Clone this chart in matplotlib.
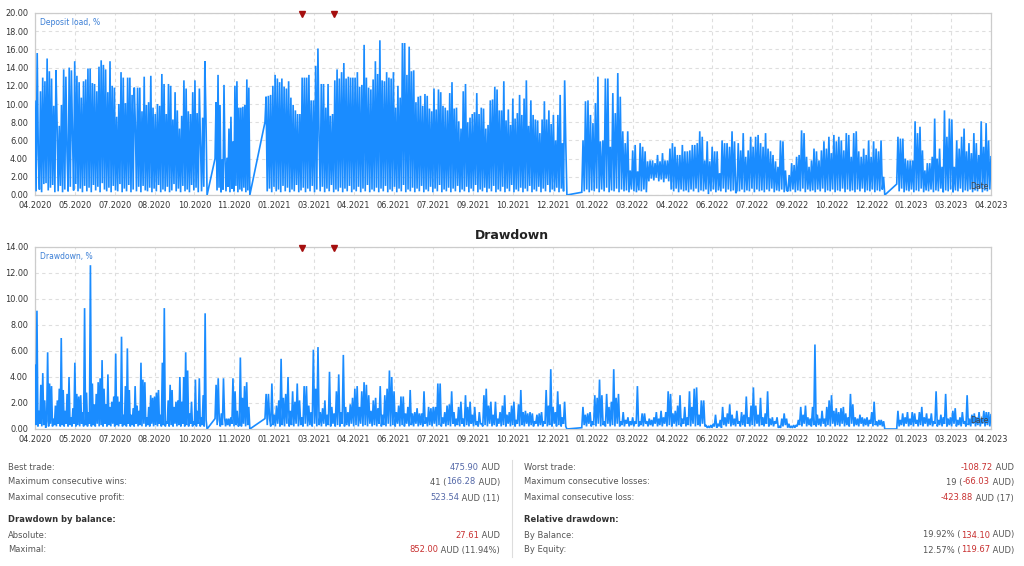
import numpy as np
import matplotlib
matplotlib.use('Agg')
import matplotlib.pyplot as plt

# Tick labels along the time axis (one every 1.5 months, as in the report)
x_labels = ['04.2020', '05.2020', '07.2020', '08.2020', '10.2020', '11.2020',
            '01.2021', '03.2021', '04.2021', '06.2021', '07.2021', '09.2021',
            '10.2021', '12.2021', '01.2022', '03.2022', '04.2022', '06.2022',
            '07.2022', '09.2022', '10.2022', '12.2022', '01.2023', '03.2023',
            '04.2023']

# Trading periods, in months since 04.2020 (start, end)
periods = [(0.0, 6.48), (6.78, 8.09), (8.66, 20.03), (20.59, 32.0), (32.45, 36.0)]

# Red event markers (months since 04.2020)
events = [10.05, 11.26]

# Deposit load, % (values in drawing order, per period)
load_a = [10.3, 0.4, 15.6, 4.5, 0.6, 11.4, 0.3, 12.9, 1.2, 12.5, 1.3, 15.0, 0.5, 13.6, 0.8, 12.8,
          1.1, 9.8, 0.3, 13.7, 7.8, 0.4, 7.6, 1.0, 9.9, 0.3, 13.8, 0.6, 13.0, 4.8, 0.4, 14.0,
          0.9, 13.7, 6.6, 0.5, 14.7, 1.2, 13.1, 0.4, 12.4, 0.7, 10.7, 0.3, 12.5, 1.0, 12.7, 0.4,
          13.9, 0.8, 13.9, 0.3, 12.3, 1.1, 12.2, 0.5, 11.4, 0.9, 14.1, 0.3, 14.8, 1.3, 14.3, 0.6,
          13.8, 0.4, 11.3, 0.8, 14.7, 0.3, 12.0, 1.0, 11.8, 0.5, 8.6, 0.4, 10.0, 1.2, 13.5, 0.3,
          12.9, 0.7, 10.1, 0.4, 12.9, 1.1, 12.9, 0.3, 11.0, 0.6, 11.8, 7.6, 0.4, 11.8, 0.9, 11.8,
          0.3, 9.2, 1.0, 13.0, 0.5, 9.9, 0.4, 10.2, 0.8, 13.1, 0.3, 9.6, 0.7, 8.9, 0.4, 10.0,
          1.1, 9.8, 0.3, 13.3, 0.6, 12.2, 0.4, 8.9, 0.9, 12.2, 0.3, 12.0, 0.5, 8.3, 1.2, 11.3,
          0.4, 9.3, 0.7, 7.3, 0.3, 8.7, 1.0, 12.6, 0.4, 11.7, 0.6, 9.2, 0.3, 8.9, 1.1, 11.3,
          0.5, 12.6, 0.8, 9.0, 0.3, 11.7, 5.6, 0.4, 8.5, 0.9, 14.7, 8.3, 0.0]
load_b = [4.0, 10.2, 0.5, 13.2, 0.8, 9.9, 0.3, 3.9, 0.6, 12.1, 4.0, 0.4, 4.1, 0.9, 7.3, 0.3,
          8.6, 0.7, 5.9, 0.4, 12.0, 1.0, 12.5, 0.3, 9.6, 0.6, 9.6, 0.4, 9.7, 0.8, 9.9, 0.3,
          12.7, 0.5, 11.8, 0.0]
load_c = [8.0, 10.8, 0.4, 10.9, 0.7, 11.0, 0.3, 12.0, 0.9, 13.2, 0.4, 12.8, 0.6, 12.4, 0.3, 12.8,
          1.0, 11.9, 0.4, 11.7, 0.8, 12.5, 0.3, 10.7, 0.6, 9.9, 0.4, 9.3, 1.1, 8.9, 0.3, 8.9,
          0.5, 12.9, 0.8, 12.9, 0.3, 12.9, 0.7, 13.2, 0.4, 10.4, 1.0, 10.4, 0.3, 14.2, 0.6, 16.1,
          6.5, 0.4, 12.2, 0.9, 12.2, 0.3, 9.6, 0.7, 12.2, 0.4, 8.7, 1.1, 8.9, 0.3, 12.6, 0.6,
          13.8, 0.4, 12.8, 0.8, 13.5, 0.3, 14.5, 0.7, 12.8, 0.4, 13.0, 1.0, 12.9, 0.3, 12.9, 0.6,
          12.9, 0.4, 13.5, 0.9, 11.9, 0.3, 12.1, 0.7, 16.5, 0.4, 12.9, 1.1, 11.8, 0.3, 11.6, 0.6,
          12.7, 0.4, 14.7, 0.8, 13.3, 0.3, 17.0, 0.7, 12.6, 0.4, 12.5, 1.0, 13.5, 0.3, 12.9, 0.6,
          12.8, 0.4, 13.5, 0.9, 9.6, 0.3, 12.0, 0.7, 10.7, 0.4, 16.7, 1.1, 16.7, 0.3, 13.2, 0.6,
          16.3, 0.4, 13.6, 0.8, 13.7, 0.3, 10.2, 0.7, 10.8, 0.4, 10.9, 1.0, 9.8, 0.3, 11.1, 0.6,
          10.9, 0.4, 9.5, 0.9, 9.2, 0.3, 11.7, 0.7, 9.4, 0.4, 11.6, 1.1, 11.3, 0.3, 9.8, 0.6,
          9.6, 0.4, 9.3, 0.8, 11.2, 0.3, 12.4, 0.7, 9.5, 0.4, 9.6, 1.0, 8.1, 0.3, 7.3, 0.6,
          11.4, 0.4, 12.2, 0.9, 8.0, 0.3, 8.5, 0.7, 8.9, 0.4, 9.1, 1.1, 11.2, 0.3, 8.9, 0.6,
          9.6, 0.4, 9.5, 0.8, 7.3, 0.3, 7.7, 0.7, 10.4, 0.4, 10.5, 1.0, 11.9, 0.3, 11.6, 0.6,
          9.3, 0.4, 9.3, 0.9, 12.5, 0.3, 8.2, 0.7, 9.4, 0.4, 7.7, 1.1, 10.6, 0.3, 8.4, 0.6,
          9.0, 0.4, 11.0, 0.8, 8.8, 0.3, 10.6, 0.7, 12.6, 0.4, 7.6, 1.0, 10.4, 0.3, 8.8, 0.6,
          8.3, 0.4, 8.2, 0.9, 6.8, 0.3, 8.3, 0.7, 10.3, 0.4, 8.3, 1.1, 9.3, 0.3, 7.8, 0.6,
          8.8, 0.4, 6.0, 0.8, 8.8, 0.3, 11.0, 0.7, 5.7, 0.4, 12.6, 5.7, 0.0]
load_d = [0.3, 6.0, 0.4, 10.3, 0.6, 10.4, 0.3, 8.8, 0.5, 7.9, 0.4, 10.1, 0.7, 13.0, 0.3, 5.9,
          0.6, 6.0, 0.4, 12.8, 0.8, 12.8, 0.3, 5.3, 0.5, 11.2, 0.4, 9.0, 0.7, 13.4, 0.3, 10.8,
          0.6, 7.0, 0.4, 5.7, 0.5, 7.0, 0.3, 2.7, 0.6, 4.9, 0.4, 5.5, 0.3, 2.6, 0.5, 5.7,
          0.4, 5.3, 0.6, 4.8, 0.3, 3.7, 1.5, 3.8, 1.8, 3.8, 1.6, 3.5, 1.9, 4.4, 1.5, 3.7,
          1.7, 4.6, 1.4, 3.8, 1.8, 3.8, 1.5, 5.1, 0.6, 5.7, 0.4, 5.3, 0.7, 4.4, 0.3, 4.4,
          0.6, 5.5, 0.4, 4.8, 0.5, 4.8, 0.3, 4.9, 0.6, 5.5, 0.4, 5.5, 0.7, 5.7, 0.3, 7.0,
          0.5, 6.4, 0.4, 3.8, 0.6, 5.9, 0.1, 3.7, 0.4, 5.3, 0.6, 4.8, 0.3, 4.8, 0.5, 2.4,
          0.4, 6.0, 0.7, 5.7, 0.3, 5.7, 0.6, 5.3, 0.4, 7.0, 0.5, 5.9, 0.2, 0.5, 5.7, 0.4,
          4.9, 0.6, 6.8, 0.3, 4.2, 0.5, 4.9, 0.4, 6.4, 0.7, 5.3, 0.3, 6.4, 0.6, 6.6, 0.4,
          5.7, 0.5, 5.3, 0.3, 6.8, 0.6, 5.1, 0.4, 4.8, 0.7, 4.4, 0.3, 3.7, 0.5, 3.1, 0.4,
          6.0, 0.6, 5.9, 0.3, 2.7, 0.5, 0.4, 2.2, 0.4, 3.5, 0.6, 3.3, 0.3, 4.2, 0.5, 4.4,
          0.4, 7.1, 0.7, 6.8, 0.3, 4.2, 0.6, 3.1, 0.4, 3.8, 0.5, 5.1, 0.3, 4.8, 0.6, 3.8,
          0.4, 4.9, 0.7, 5.9, 0.3, 5.1, 0.5, 6.4, 0.4, 4.6, 0.6, 6.6, 0.3, 5.9, 0.5, 6.4,
          0.4, 6.0, 0.7, 4.9, 0.3, 6.8, 0.6, 6.6, 0.4, 4.2, 0.5, 6.8, 0.3, 7.0, 0.6, 4.8,
          0.4, 4.2, 0.7, 5.1, 0.3, 4.4, 0.5, 6.0, 0.4, 4.2, 0.6, 5.9, 0.3, 5.1, 0.5, 4.8,
          0.4, 6.0, 0.6, 2.0, 0.0]
load_e = [1.2, 6.4, 0.4, 6.2, 0.7, 6.2, 0.3, 4.0, 0.5, 3.8, 0.4, 3.8, 0.6, 3.8, 0.3, 8.1,
          0.5, 6.8, 0.4, 7.5, 0.7, 4.9, 0.3, 2.7, 0.5, 3.5, 0.4, 3.5, 0.6, 4.2, 0.3, 8.4,
          0.5, 4.0, 0.4, 5.1, 0.7, 3.1, 0.3, 9.3, 0.5, 6.4, 0.4, 8.4, 0.6, 8.3, 0.3, 3.1,
          0.5, 6.0, 0.4, 5.1, 0.7, 6.4, 0.3, 7.3, 0.5, 4.8, 0.4, 5.7, 0.6, 4.6, 0.3, 6.8,
          0.5, 5.7, 0.4, 4.4, 0.7, 8.1, 0.3, 5.3, 0.5, 7.9, 0.4, 6.0, 0.6, 4.2]

# Drawdown, % (values in drawing order, per period)
dd_a = [4.9, 0.3, 9.1, 0.2, 1.4, 0.4, 3.4, 0.2, 4.3, 0.3, 2.2, 0.1, 0.6, 5.9, 0.2, 3.5,
        0.4, 3.3, 0.2, 0.8, 0.3, 1.8, 0.2, 2.2, 0.4, 3.1, 0.2, 7.0, 0.3, 3.0, 0.2, 1.4,
        0.4, 2.7, 0.2, 4.0, 0.3, 0.9, 0.2, 1.6, 0.4, 5.1, 0.2, 2.7, 0.3, 2.5, 0.2, 2.6,
        0.4, 1.3, 0.2, 9.3, 0.3, 2.8, 0.2, 1.3, 0.4, 12.6, 0.2, 3.5, 0.3, 1.9, 0.2, 2.7,
        0.4, 3.6, 0.2, 3.9, 0.3, 5.3, 0.2, 3.1, 0.4, 1.9, 0.2, 4.2, 0.3, 1.7, 0.2, 2.1,
        0.4, 2.5, 0.2, 5.8, 0.3, 2.5, 0.2, 2.1, 0.4, 7.1, 0.2, 1.1, 0.3, 3.3, 0.2, 6.2,
        0.4, 3.0, 0.2, 1.1, 0.3, 1.6, 0.2, 3.3, 0.4, 1.8, 0.2, 1.4, 0.3, 5.1, 0.2, 3.8,
        0.4, 3.6, 0.2, 0.9, 0.3, 1.7, 0.2, 2.6, 0.4, 2.4, 0.2, 2.5, 0.3, 2.8, 0.2, 3.0,
        0.4, 1.1, 0.2, 5.1, 0.3, 9.3, 0.2, 0.6, 0.4, 2.2, 0.2, 3.4, 0.3, 3.0, 0.2, 1.7,
        0.4, 2.1, 0.2, 2.2, 0.3, 4.0, 0.2, 2.1, 0.4, 4.0, 0.2, 5.9, 0.3, 4.5, 0.2, 1.2,
        0.4, 2.1, 0.2, 0.6, 0.3, 3.8, 0.2, 1.4, 0.4, 3.9, 0.2, 0.9, 0.3, 2.6, 0.2, 8.9,
        0.7, 0.0]
dd_b = [0.8, 3.4, 0.3, 3.9, 0.7, 0.2, 1.2, 0.3, 3.9, 0.9, 0.2, 0.8, 0.3, 0.8, 0.2, 0.9,
        0.4, 3.9, 0.2, 2.9, 0.3, 1.4, 0.2, 0.3, 5.5, 0.2, 2.4, 0.4, 3.3, 0.2, 3.6, 0.3,
        1.7, 0.0]
dd_c = [0.8, 2.7, 0.3, 2.7, 0.8, 0.2, 3.5, 0.3, 1.1, 0.2, 1.8, 0.4, 2.2, 0.2, 5.4, 0.3,
        2.4, 0.2, 2.7, 0.4, 4.0, 0.2, 1.4, 0.3, 2.9, 0.2, 2.1, 0.4, 3.5, 0.2, 2.2, 0.3,
        0.9, 0.2, 3.3, 0.4, 3.3, 0.2, 1.8, 0.3, 1.3, 0.2, 6.1, 0.4, 3.1, 0.2, 6.3, 0.3,
        1.3, 0.2, 1.6, 0.4, 2.2, 0.2, 1.1, 0.3, 4.4, 0.2, 1.7, 0.4, 1.2, 0.2, 2.9, 0.3,
        4.2, 0.2, 1.3, 0.4, 5.7, 0.2, 1.7, 0.3, 1.3, 0.2, 1.9, 0.4, 2.4, 0.2, 3.1, 0.3,
        3.3, 0.2, 1.7, 0.4, 2.9, 0.2, 3.6, 0.3, 3.4, 0.2, 2.6, 0.4, 1.4, 0.2, 2.2, 0.3,
        2.4, 0.2, 1.6, 0.4, 3.3, 0.2, 1.1, 0.3, 2.6, 0.2, 3.1, 0.4, 4.5, 0.2, 4.0, 0.3,
        2.9, 0.2, 1.3, 0.4, 1.8, 0.2, 2.5, 0.3, 2.5, 0.2, 1.2, 0.4, 1.7, 0.2, 3.0, 0.3,
        1.2, 0.2, 1.3, 0.4, 1.6, 0.2, 1.2, 0.3, 1.2, 0.2, 2.9, 0.4, 0.9, 0.2, 1.7, 0.3,
        1.6, 0.2, 1.7, 0.4, 1.7, 0.2, 3.5, 0.3, 3.5, 0.2, 0.9, 0.4, 1.3, 0.2, 1.8, 0.3,
        1.9, 0.2, 2.9, 0.4, 1.3, 0.2, 0.8, 0.3, 1.7, 0.2, 2.1, 0.4, 0.8, 0.2, 2.6, 0.3,
        1.7, 0.2, 2.1, 0.4, 1.1, 0.2, 1.7, 0.3, 0.6, 0.2, 1.3, 0.4, 0.4, 0.2, 2.6, 0.3,
        3.1, 0.2, 1.8, 0.4, 2.1, 0.2, 1.1, 0.3, 2.1, 0.2, 0.8, 0.4, 1.3, 0.2, 1.8, 0.3,
        2.6, 0.2, 1.1, 0.4, 1.3, 0.2, 1.8, 0.3, 2.1, 0.2, 0.7, 0.4, 1.9, 0.2, 3.0, 0.3,
        1.3, 0.2, 1.4, 0.4, 1.2, 0.2, 1.3, 0.3, 1.2, 0.2, 0.6, 0.4, 1.1, 0.2, 1.2, 0.3,
        1.3, 0.2, 0.6, 0.4, 3.0, 0.2, 1.8, 0.3, 4.6, 0.2, 1.7, 0.4, 1.3, 0.2, 2.9, 0.3,
        1.9, 0.2, 0.9, 0.4, 2.1, 0.2, 0.0]
dd_d = [0.1, 1.7, 0.3, 1.1, 0.2, 1.2, 0.4, 1.3, 0.2, 0.6, 0.3, 2.6, 0.2, 2.4, 0.4, 3.8,
        0.2, 2.6, 0.3, 0.6, 0.2, 2.7, 0.4, 1.7, 0.2, 2.1, 0.3, 4.6, 0.2, 2.4, 0.4, 2.7,
        0.2, 0.6, 0.3, 1.3, 0.2, 0.7, 0.4, 0.9, 0.2, 0.6, 0.3, 0.9, 0.2, 0.6, 0.4, 3.3,
        0.2, 0.6, 0.3, 1.2, 0.2, 1.2, 0.4, 0.6, 0.2, 0.8, 0.3, 0.7, 0.2, 0.9, 0.4, 1.3,
        0.2, 0.8, 0.3, 1.4, 0.2, 0.9, 0.4, 1.3, 0.2, 2.9, 0.3, 2.7, 0.2, 1.2, 0.4, 1.4,
        0.2, 1.8, 0.3, 2.6, 0.2, 0.8, 0.4, 1.7, 0.2, 0.9, 0.3, 2.9, 0.2, 1.7, 0.4, 3.1,
        0.2, 3.2, 0.3, 1.1, 0.2, 2.2, 0.4, 2.2, 0.2, 0.3, 0.1, 0.2, 0.1, 0.3, 0.1, 0.4,
        0.2, 1.1, 0.1, 0.4, 0.2, 0.7, 0.1, 1.7, 0.3, 0.9, 0.2, 1.2, 0.4, 1.9, 0.2, 1.1,
        0.3, 0.8, 0.2, 1.4, 0.4, 0.6, 0.2, 1.3, 0.3, 1.1, 0.2, 2.5, 0.4, 0.9, 0.2, 1.8,
        0.3, 3.2, 0.2, 1.8, 0.4, 1.1, 0.2, 2.4, 0.3, 0.9, 0.2, 1.2, 0.4, 2.9, 0.2, 0.8,
        0.3, 0.9, 0.2, 0.6, 0.4, 0.9, 0.1, 0.2, 0.1, 0.8, 0.2, 1.2, 0.3, 0.8, 0.1, 0.4,
        0.1, 0.2, 0.1, 0.3, 0.1, 0.3, 0.2, 0.7, 0.3, 1.7, 0.2, 1.1, 0.4, 1.8, 0.2, 0.9,
        0.3, 0.8, 0.2, 1.7, 0.3, 6.5, 0.2, 1.1, 0.3, 0.8, 0.2, 1.4, 0.4, 0.8, 0.2, 1.7,
        0.3, 2.2, 0.2, 2.6, 0.4, 1.4, 0.2, 1.6, 0.3, 1.3, 0.2, 1.6, 0.4, 1.7, 0.2, 1.2,
        0.3, 0.9, 0.2, 2.7, 0.4, 1.9, 0.2, 0.9, 0.3, 0.8, 0.2, 1.1, 0.4, 0.9, 0.2, 0.8,
        0.3, 0.9, 0.2, 0.7, 0.4, 1.3, 0.2, 2.1, 0.3, 0.6, 0.2, 0.7, 0.3, 0.7, 0.2, 0.6,
        0.0]
dd_e = [0.0, 1.4, 0.2, 0.7, 0.3, 1.2, 0.2, 0.9, 0.4, 1.3, 0.2, 0.8, 0.3, 1.3, 0.2, 1.2,
        0.4, 0.7, 0.2, 1.3, 0.3, 1.7, 0.2, 0.9, 0.4, 1.2, 0.2, 0.8, 0.3, 1.2, 0.2, 0.6,
        0.4, 2.9, 0.2, 0.7, 0.3, 1.1, 0.2, 0.9, 0.4, 2.7, 0.2, 0.8, 0.3, 0.9, 0.2, 1.4,
        0.4, 1.6, 0.2, 0.7, 0.3, 0.9, 0.2, 1.3, 0.4, 0.6, 0.2, 2.6, 0.3, 0.8, 0.2, 1.1,
        0.4, 1.2, 0.2, 0.9, 0.3, 1.3, 0.2, 0.8, 0.4, 1.4, 0.2, 1.3, 0.3, 1.3, 0.2, 1.1]

load_series = [load_a, load_b, load_c, load_d, load_e]
dd_series = [dd_a, dd_b, dd_c, dd_d, dd_e]

# Summary table (label, [(text, colour key), ...])
left_rows = [
    ('Best trade:', [('475.90', 'pos'), (' AUD', 'txt')]),
    ('Maximum consecutive wins:', [('41 (', 'txt'), ('166.28', 'pos'), (' AUD)', 'txt')]),
    ('Maximal consecutive profit:', [('523.54', 'pos'), (' AUD (11)', 'txt')]),
    ('Drawdown by balance:', None),
    ('Absolute:', [('27.61', 'neg'), (' AUD', 'txt')]),
    ('Maximal:', [('852.00', 'neg'), (' AUD (11.94%)', 'txt')]),
]
right_rows = [
    ('Worst trade:', [('-108.72', 'neg'), (' AUD', 'txt')]),
    ('Maximum consecutive losses:', [('19 (', 'txt'), ('-66.03', 'neg'), (' AUD)', 'txt')]),
    ('Maximal consecutive loss:', [('-423.88', 'neg'), (' AUD (17)', 'txt')]),
    ('Relative drawdown:', None),
    ('By Balance:', [('19.92% (', 'txt'), ('134.10', 'neg'), (' AUD)', 'txt')]),
    ('By Equity:', [('12.57% (', 'txt'), ('119.67', 'neg'), (' AUD)', 'txt')]),
]

LINE = '#1a8cff'
GRID = '#dedede'
TXT = '#555555'
COLORS = {'pos': '#5468a8', 'neg': '#c83030', 'txt': '#555555'}

plt.rcParams['font.family'] = ['DejaVu Sans']
fig = plt.figure(figsize=(10.24, 5.66), dpi=100)
fig.patch.set_facecolor('white')

W, H = 1024.0, 566.0


def make_panel(rect, series, ymax, ylabel):
    ax = fig.add_axes(rect)
    xs, ys = [], []
    for (start, end), vals in zip(periods, series):
        xs.append(np.linspace(start, end, len(vals)))
        ys.append(np.array(vals))
    ax.plot(np.concatenate(xs), np.concatenate(ys), color=LINE, lw=1.2,
            solid_joinstyle='miter', zorder=3)
    ax.set_xlim(0, 36)
    ax.set_ylim(0, ymax)
    ax.set_xticks(np.arange(len(x_labels)) * 1.5)
    ax.set_xticklabels(x_labels)
    yt = np.arange(0, ymax + 0.01, 2)
    ax.set_yticks(yt)
    ax.set_yticklabels(['%.2f' % v for v in yt])
    ax.tick_params(length=0, labelsize=5.9, labelcolor='#333333')
    ax.tick_params(axis='x', pad=4)
    ax.tick_params(axis='y', pad=5)
    ax.grid(True, color=GRID, lw=0.8, ls=(0, (3, 3)), zorder=0)
    for sp in ax.spines.values():
        sp.set_color('#cccccc')
        sp.set_linewidth(0.9)
    ax.text(0.005, 0.975, ylabel, transform=ax.transAxes, ha='left', va='top',
            fontsize=5.5, color='#3b7fd6')
    ax.text(0.997, 0.02, 'Date', transform=ax.transAxes, ha='right', va='bottom',
            fontsize=5.5, color='#444444', zorder=4)
    ax.plot(events, [ymax * 0.992] * len(events), ls='none', marker='v', ms=4.5,
            color='#a50f0f', clip_on=False, zorder=5)
    return ax


ax1 = make_panel([35 / W, 1 - 195 / H, 956 / W, 182 / H], load_series, 20, 'Deposit load, %')
ax2 = make_panel([35 / W, 1 - 429 / H, 956 / W, 182 / H], dd_series, 14, 'Drawdown, %')

fig.text(512 / W, 1 - 235 / H, 'Drawdown', ha='center', va='center',
         fontsize=9, fontweight='bold', color='#222222')

# Summary table
renderer = fig.canvas.get_renderer()


def right_text(x_px, y_px, parts):
    x = x_px
    for s, key in reversed(parts):
        t = fig.text(x / W, 1 - y_px / H, s, ha='right', va='center',
                     fontsize=6, color=COLORS[key])
        bb = t.get_window_extent(renderer)
        x = bb.x0


row_y = [467, 482, 498, 520, 535, 550]
for rows, x_lab, x_val in [(left_rows, 8, 500), (right_rows, 524, 1014)]:
    for (label, parts), y in zip(rows, row_y):
        bold = parts is None
        fig.text(x_lab / W, 1 - y / H, label, ha='left', va='center', fontsize=6,
                 color='#333333' if bold else TXT,
                 fontweight='bold' if bold else 'normal')
        if parts:
            right_text(x_val, y, parts)

fig.add_artist(plt.Line2D([512 / W, 512 / W], [1 - 460 / H, 1 - 557 / H],
                          color='#dddddd', lw=0.8))

fig.savefig('out.png', dpi=100, facecolor='white')
